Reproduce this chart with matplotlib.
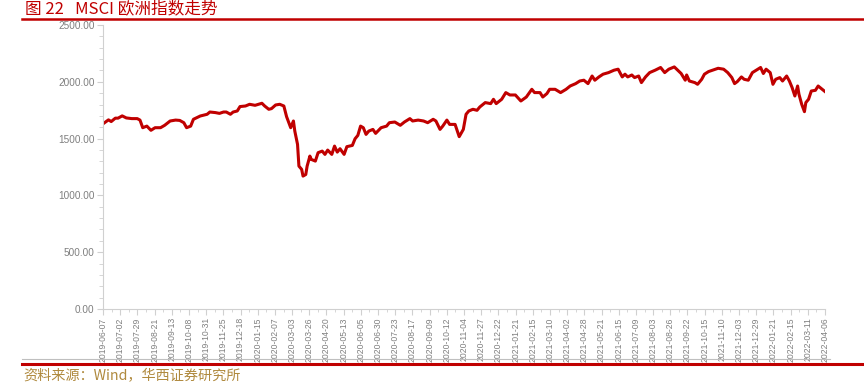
import matplotlib.pyplot as plt
from matplotlib.lines import Line2D
from matplotlib.ticker import MultipleLocator, FormatStrFormatter

plt.rcParams['font.family'] = ['Liberation Sans', 'Noto Sans CJK SC', 'DejaVu Sans']

# trading-day index since 2019-06-07 and MSCI Europe level
days = [0, 4, 6, 9, 11, 14, 17, 21, 25, 27, 29, 32, 35, 38, 42, 45, 49, 53, 56, 59,
        61, 64, 66, 71, 76, 78, 82, 85, 88, 90, 93, 95, 98, 100, 104, 107, 111, 116, 118, 121,
        123, 126, 129, 132, 134, 137, 139, 140, 142, 143, 145, 146, 148, 149, 151, 152, 155, 157, 160, 162,
        164, 167, 169, 171, 173, 176, 178, 182, 184, 186, 188, 190, 192, 194, 197, 199, 203, 207, 209, 213,
        217, 220, 224, 226, 230, 234, 237, 241, 243, 246, 248, 251, 253, 257, 260, 263, 265, 267, 270, 273,
        275, 279, 283, 285, 287, 291, 294, 297, 301, 305, 309, 313, 315, 319, 321, 324, 326, 330, 334, 338,
        341, 345, 348, 351, 354, 357, 359, 362, 365, 369, 373, 376, 379, 381, 383, 386, 388, 391, 393, 396,
        399, 403, 407, 410, 413, 417, 420, 422, 425, 426, 428, 432, 434, 437, 439, 442, 445, 449, 453, 456,
        459, 461, 463, 466, 468, 471, 474, 478, 480, 482, 484, 487, 489, 491, 494, 496, 499, 501, 503, 505,
        507, 508, 510, 512, 513, 515, 517, 520, 522, 525, 527]
values = [1630, 1665, 1650, 1680, 1680, 1700, 1682, 1676, 1676, 1663, 1596, 1610, 1573, 1596, 1596, 1617, 1655, 1663, 1660, 1640,
          1596, 1610, 1670, 1699, 1714, 1734, 1729, 1722, 1734, 1734, 1714, 1734, 1743, 1782, 1787, 1802, 1793, 1811, 1787, 1758,
          1764, 1796, 1802, 1787, 1693, 1596, 1655, 1566, 1449, 1258, 1229, 1170, 1184, 1258, 1346, 1317, 1302, 1376, 1390, 1361,
          1399, 1361, 1434, 1381, 1411, 1361, 1429, 1440, 1499, 1528, 1610, 1596, 1537, 1566, 1581, 1546, 1596, 1610, 1640, 1646,
          1617, 1646, 1676, 1655, 1663, 1655, 1640, 1670, 1655, 1581, 1610, 1663, 1625, 1625, 1517, 1581, 1714, 1743, 1758, 1749,
          1778, 1817, 1808, 1846, 1808, 1846, 1905, 1884, 1884, 1831, 1866, 1934, 1905, 1905, 1866, 1896, 1934, 1934, 1905, 1934,
          1963, 1984, 2007, 2014, 1984, 2051, 2014, 2043, 2067, 2081, 2102, 2111, 2043, 2067, 2043, 2060, 2037, 2051, 1993, 2043,
          2081, 2102, 2126, 2081, 2111, 2131, 2096, 2073, 2014, 2060, 2007, 1993, 1978, 2022, 2067, 2090, 2102, 2119, 2111, 2081,
          2037, 1984, 2002, 2043, 2022, 2014, 2081, 2111, 2126, 2073, 2111, 2081, 1978, 2022, 2037, 2007, 2051, 2007, 1949, 1875,
          1963, 1890, 1802, 1737, 1817, 1846, 1919, 1925, 1963, 1934, 1914]

tick_labels = ['2019-06-07', '2019-07-02', '2019-07-29', '2019-08-21', '2019-09-13', '2019-10-08',
               '2019-10-31', '2019-11-25', '2019-12-18', '2020-01-15', '2020-02-07', '2020-03-03',
               '2020-03-26', '2020-04-20', '2020-05-13', '2020-06-05', '2020-06-30', '2020-07-23',
               '2020-08-17', '2020-09-09', '2020-10-12', '2020-11-04', '2020-11-27', '2020-12-22',
               '2021-01-21', '2021-02-15', '2021-03-10', '2021-04-02', '2021-04-28', '2021-05-21',
               '2021-06-15', '2021-07-09', '2021-08-03', '2021-08-26', '2021-09-22', '2021-10-15',
               '2021-11-10', '2021-12-03', '2021-12-29', '2022-01-21', '2022-02-15', '2022-03-11',
               '2022-04-06']
step = 527 / (len(tick_labels) - 1)
tick_pos = [i * step for i in range(len(tick_labels))]

fig = plt.figure(figsize=(8.64, 3.89), dpi=100)
ax = fig.add_axes([103 / 864, 80 / 389, 722 / 864, 284 / 389])
ax.plot(days, values, color='#C00000', lw=2.2, solid_joinstyle='round')

ax.set_xlim(0, 527)
ax.set_ylim(0, 2500)
ax.yaxis.set_major_locator(MultipleLocator(500))
ax.yaxis.set_minor_locator(MultipleLocator(100))
ax.yaxis.set_major_formatter(FormatStrFormatter('%.2f'))
ax.set_xticks(tick_pos)
ax.set_xticks([p + step / 2 for p in tick_pos[:-1]], minor=True)
ax.set_xticklabels(tick_labels, rotation=90, fontsize=6.2, color='#7F7F7F')
ax.tick_params(axis='y', which='both', labelsize=7.2, labelcolor='#7F7F7F', color='#D0D0D0', pad=2)
ax.tick_params(axis='y', which='major', length=4)
ax.tick_params(axis='y', which='minor', length=3)
ax.tick_params(axis='x', which='major', color='#D0D0D0', length=4, pad=2)
ax.tick_params(axis='x', which='minor', color='#D0D0D0', length=2)
for s in ['top', 'right']:
    ax.spines[s].set_visible(False)
for s in ['left', 'bottom']:
    ax.spines[s].set_color('#D0D0D0')

fig.text(25 / 864, 1 - 9 / 389, '图 22   MSCI 欧洲指数走势', fontsize=12, color='#C00000',
         va='center', ha='left', family=['Noto Sans CJK SC', 'DejaVu Sans'])
fig.add_artist(Line2D([22 / 864, 1.0], [1 - 19 / 389] * 2, color='#C00000', lw=1.8))
fig.add_artist(Line2D([22 / 864, 830 / 864], [1 - 359 / 389] * 2, color='#BFBFBF', lw=0.8))
fig.add_artist(Line2D([22 / 864, 1.0], [1 - 363.5 / 389] * 2, color='#C00000', lw=2.2))
fig.text(23 / 864, 1 - 376 / 389, '资料来源：Wind，华西证券研究所', fontsize=10.2, color='#B08A3E',
         va='center', ha='left', family=['Noto Sans CJK SC', 'DejaVu Sans'])

fig.savefig('out.png', dpi=100)
